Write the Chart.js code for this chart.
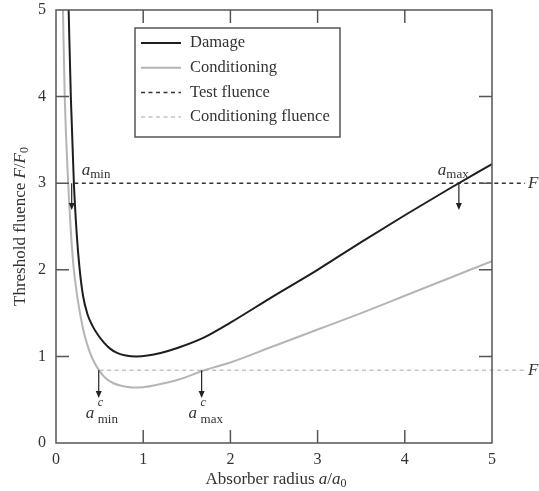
<!DOCTYPE html>
<html lang="en">
<head>
  <meta charset="UTF-8" />
  <title>Threshold fluence vs absorber radius</title>
  <script src="https://cdn.jsdelivr.net/npm/chart.js"></script>
  <style>
    body {
      margin: 0;
      background: #fff;
    }

    .chart-container {
      position: relative;
      width: 539px;
      height: 491px;
    }
  </style>
</head>
<body>
  <div class="chart-container">
    <canvas id="fluenceChart" width="539" height="491"></canvas>
  </div>

  <script>
    // damage threshold curve
    const damageRadius = [0.145, 0.17, 0.205, 0.24, 0.27, 0.31, 0.36, 0.42, 0.48, 0.55, 0.62, 0.7, 0.8, 0.92, 1.05, 1.2, 1.4, 1.7, 2.0, 2.5, 3.0, 3.5, 4.0, 4.5, 5.0];
    const damageFluence = [5, 4, 3, 2.38, 2.02, 1.7, 1.49, 1.35, 1.25, 1.16, 1.09, 1.04, 1.01, 1.0, 1.01, 1.04, 1.1, 1.22, 1.39, 1.7, 2.0, 2.32, 2.63, 2.93, 3.22];

    // conditioning threshold curve
    const condRadius = [0.08, 0.1, 0.14, 0.17, 0.2, 0.25, 0.31, 0.36, 0.42, 0.5, 0.58, 0.66, 0.75, 0.88, 1.0, 1.15, 1.4, 1.7, 2.0, 2.5, 3.0, 3.5, 4.0, 4.5, 5.0];
    const condFluence = [5, 4, 3, 2.45, 2.05, 1.65, 1.32, 1.13, 0.97, 0.83, 0.74, 0.69, 0.66, 0.64, 0.645, 0.67, 0.73, 0.84, 0.93, 1.12, 1.31, 1.5, 1.7, 1.9, 2.1];

    // horizontal fluence levels: [start radius, end radius], level
    const testRange = [0.21, 5.38];
    const testLevel = 3;
    const condRange = [0.5, 5.38];
    const condLevel = 0.84;

    // arrows marking a_min, a_max, a_min^c, a_max^c
    const arrowNames = ['min', 'max', 'min', 'max'];
    const arrowCond = [false, false, true, true];
    const arrowRadius = [0.18, 4.62, 0.49, 1.67];
    const arrowFrom = [3, 3, 0.84, 0.84];
    const arrowTo = [2.69, 2.69, 0.52, 0.52];

    const tickValues = [0, 1, 2, 3, 4, 5];
    const legendLabels = ['Damage', 'Conditioning', 'Test fluence', 'Conditioning fluence'];

    const SERIF = '"Liberation Serif", "DejaVu Serif", serif';
    const TEXT = '#333';
    const FRAME = '#555';

    const pts = (xs, ys) => xs.map((x, i) => ({ x: x, y: ys[i] }));

    // draws a run of text pieces with their own font and baseline shift
    function richText(ctx, x, y, runs, align) {
      let total = 0;
      runs.forEach(r => { ctx.font = r.font; total += ctx.measureText(r.t).width; });
      let cx = align === 'center' ? x - total / 2 : x;
      runs.forEach(r => {
        ctx.font = r.font;
        ctx.fillText(r.t, cx, y + (r.dy || 0));
        cx += ctx.measureText(r.t).width;
      });
    }

    const overlay = {
      id: 'overlay',
      afterDatasetsDraw(chart) {
        const ctx = chart.ctx;
        const a = chart.chartArea;
        const xs = chart.scales.x;
        const ys = chart.scales.y;
        ctx.save();

        // frame with inward ticks on all sides
        ctx.strokeStyle = FRAME;
        ctx.lineWidth = 1.5;
        ctx.setLineDash([]);
        ctx.strokeRect(a.left, a.top, a.right - a.left, a.bottom - a.top);
        ctx.beginPath();
        tickValues.slice(1, -1).forEach(v => {
          const px = xs.getPixelForValue(v);
          ctx.moveTo(px, a.bottom); ctx.lineTo(px, a.bottom - 13);
          ctx.moveTo(px, a.top); ctx.lineTo(px, a.top + 13);
          const py = ys.getPixelForValue(v);
          ctx.moveTo(a.left, py); ctx.lineTo(a.left + 13, py);
          ctx.moveTo(a.right, py); ctx.lineTo(a.right - 13, py);
        });
        ctx.stroke();

        // arrows
        ctx.strokeStyle = '#222';
        ctx.fillStyle = '#222';
        ctx.lineWidth = 1.2;
        arrowRadius.forEach((r, i) => {
          const px = xs.getPixelForValue(r);
          const y1 = ys.getPixelForValue(arrowFrom[i]);
          const y2 = ys.getPixelForValue(arrowTo[i]);
          ctx.beginPath();
          ctx.moveTo(px, y1); ctx.lineTo(px, y2 - 5);
          ctx.stroke();
          ctx.beginPath();
          ctx.moveTo(px - 3, y2 - 7); ctx.lineTo(px + 3, y2 - 7); ctx.lineTo(px, y2);
          ctx.closePath();
          ctx.fill();
        });

        // arrow labels
        ctx.fillStyle = TEXT;
        ctx.textBaseline = 'alphabetic';
        ctx.textAlign = 'left';
        arrowRadius.forEach((r, i) => {
          const px = xs.getPixelForValue(r);
          const runs = [{ t: 'a', font: 'italic 17px ' + SERIF }];
          if (arrowCond[i]) {
            const base = ys.getPixelForValue(arrowTo[i]) + 20;
            richText(ctx, px - 13, base, runs);
            ctx.font = 'italic 12px ' + SERIF;
            ctx.fillText('c', px - 1, base - 12);
            ctx.font = '13px ' + SERIF;
            ctx.fillText(arrowNames[i], px - 1, base + 5);
          } else {
            const base = ys.getPixelForValue(arrowFrom[i]) - 8;
            const left = i === 0 ? px + 10 : px - 21;
            richText(ctx, left, base, runs.concat([{ t: arrowNames[i], font: '13px ' + SERIF, dy: 3 }]));
          }
        });

        // level labels past the right edge
        ctx.font = 'italic 17px ' + SERIF;
        ctx.fillText('F', 528, ys.getPixelForValue(testLevel) + 5);
        ctx.fillText('F', 528, ys.getPixelForValue(condLevel) + 5);

        // legend box
        const lx = 135, ly = 28, lw = 205, lh = 109;
        ctx.fillStyle = '#fff';
        ctx.fillRect(lx, ly, lw, lh);
        ctx.strokeStyle = FRAME;
        ctx.lineWidth = 1.5;
        ctx.strokeRect(lx, ly, lw, lh);
        chart.data.datasets.forEach((ds, i) => {
          const rowY = ly + 15 + i * 24.7;
          ctx.strokeStyle = ds.borderColor;
          ctx.lineWidth = ds.borderWidth;
          ctx.setLineDash(ds.borderDash || []);
          ctx.beginPath();
          ctx.moveTo(lx + 6, rowY); ctx.lineTo(lx + 46, rowY);
          ctx.stroke();
          ctx.setLineDash([]);
          ctx.fillStyle = TEXT;
          ctx.font = '16.5px ' + SERIF;
          ctx.textBaseline = 'middle';
          ctx.fillText(ds.label, lx + 55, rowY);
        });

        // axis titles
        ctx.fillStyle = TEXT;
        ctx.textBaseline = 'alphabetic';
        richText(ctx, (a.left + a.right) / 2 + 2, 484, [
          { t: 'Absorber radius ', font: '17px ' + SERIF },
          { t: 'a', font: 'italic 17px ' + SERIF },
          { t: '/', font: '17px ' + SERIF },
          { t: 'a', font: 'italic 17px ' + SERIF },
          { t: '0', font: '12px ' + SERIF, dy: 3 }
        ], 'center');
        ctx.translate(25, (a.top + a.bottom) / 2);
        ctx.rotate(-Math.PI / 2);
        richText(ctx, 0, 0, [
          { t: 'Threshold fluence ', font: '17px ' + SERIF },
          { t: 'F', font: 'italic 17px ' + SERIF },
          { t: '/', font: '17px ' + SERIF },
          { t: 'F', font: 'italic 17px ' + SERIF },
          { t: '0', font: '12px ' + SERIF, dy: 3 }
        ], 'center');

        ctx.restore();
      }
    };

    const ctx = document.getElementById('fluenceChart').getContext('2d');

    new Chart(ctx, {
      type: 'line',
      data: {
        datasets: [
          {
            label: legendLabels[0],
            data: pts(damageRadius, damageFluence),
            borderColor: '#1e1e1e',
            borderWidth: 2,
            pointRadius: 0,
            cubicInterpolationMode: 'monotone'
          },
          {
            label: legendLabels[1],
            data: pts(condRadius, condFluence),
            borderColor: '#b5b5b5',
            borderWidth: 2,
            pointRadius: 0,
            cubicInterpolationMode: 'monotone'
          },
          {
            label: legendLabels[2],
            data: pts(testRange, [testLevel, testLevel]),
            borderColor: '#333',
            borderWidth: 1.5,
            borderDash: [4, 3.5],
            pointRadius: 0,
            clip: false
          },
          {
            label: legendLabels[3],
            data: pts(condRange, [condLevel, condLevel]),
            borderColor: '#c4c4c4',
            borderWidth: 1.5,
            borderDash: [4, 3.5],
            pointRadius: 0,
            clip: false
          }
        ]
      },
      options: {
        responsive: false,
        animation: false,
        layout: { padding: { left: 0, right: 47, top: 10, bottom: 0 } },
        plugins: {
          legend: { display: false },
          tooltip: { enabled: false }
        },
        scales: {
          x: {
            type: 'linear',
            min: 0,
            max: 5,
            grid: { display: false, drawTicks: false },
            border: { display: false },
            afterBuildTicks: s => { s.ticks = tickValues.map(v => ({ value: v })); },
            afterFit: s => { s.height = 48; s.paddingLeft = 0; s.paddingRight = 0; },
            ticks: { padding: 7, color: TEXT, font: { family: SERIF, size: 16 } }
          },
          y: {
            type: 'linear',
            min: 0,
            max: 5,
            grid: { display: false, drawTicks: false },
            border: { display: false },
            afterBuildTicks: s => { s.ticks = tickValues.map(v => ({ value: v })); },
            afterFit: s => { s.width = 56; s.paddingTop = 0; s.paddingBottom = 0; },
            ticks: { padding: 10, color: TEXT, font: { family: SERIF, size: 16 } }
          }
        }
      },
      plugins: [overlay]
    });
  </script>
</body>
</html>
